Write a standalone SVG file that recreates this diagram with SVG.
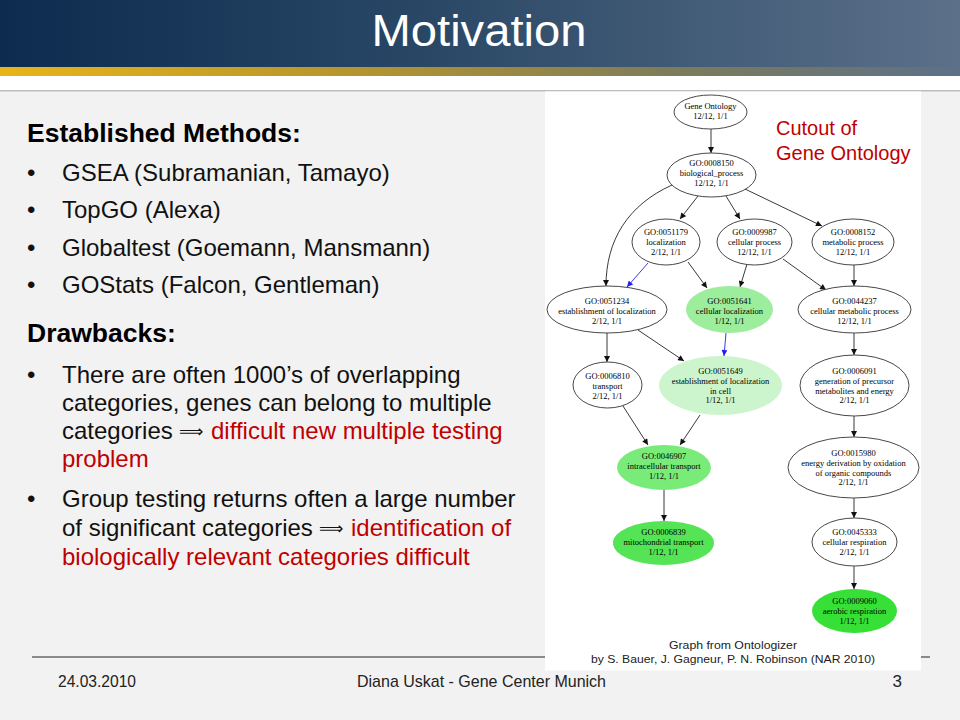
<svg xmlns="http://www.w3.org/2000/svg" width="960" height="720" viewBox="0 0 960 720">
<defs>
<linearGradient id="hdr" x1="0" y1="0" x2="1" y2="0">
<stop offset="0" stop-color="#0c2b4e"/>
<stop offset="0.45" stop-color="#2a4866"/>
<stop offset="1" stop-color="#5c7089"/>
</linearGradient>
<linearGradient id="gold" x1="0" y1="0" x2="1" y2="0">
<stop offset="0" stop-color="#e8b419"/>
<stop offset="0.35" stop-color="#b8962c"/>
<stop offset="0.7" stop-color="#7d7c5a"/>
<stop offset="1" stop-color="#5c7089"/>
</linearGradient>
<marker id="ah" viewBox="0 0 10 10" refX="10" refY="5" markerWidth="7" markerHeight="6" markerUnits="userSpaceOnUse" orient="auto">
<path d="M0,0 L10,5 L0,10 z" fill="#111"/>
</marker>
<marker id="ahb" viewBox="0 0 10 10" refX="10" refY="5" markerWidth="7" markerHeight="6" markerUnits="userSpaceOnUse" orient="auto">
<path d="M0,0 L10,5 L0,10 z" fill="#2222ee"/>
</marker>
</defs>
<style>
.body{font-family:"Liberation Sans",Arial,sans-serif;font-size:24px;fill:#111}
.head{font-family:"Liberation Sans",Arial,sans-serif;font-size:26.5px;font-weight:bold;fill:#000}
.red{fill:#c00000}
.arr{font-family:"DejaVu Sans",sans-serif;font-size:17px}
.nt{font-family:"Liberation Serif","Times New Roman",serif;font-size:8.5px;fill:#000;text-anchor:middle}
.wn{fill:#ffffff;stroke:#333;stroke-width:0.9}
.e{fill:none;stroke:#222;stroke-width:0.9;marker-end:url(#ah)}
.eb{fill:none;stroke:#2222ee;stroke-width:0.9;marker-end:url(#ahb)}
.foot{font-family:"Liberation Sans",Arial,sans-serif;font-size:17px;fill:#222}
.cap{font-family:"Liberation Sans",Arial,sans-serif;font-size:11.5px;fill:#222;text-anchor:middle}
</style>

<rect x="0" y="0" width="960" height="720" fill="#f2f2f2"/>
<rect x="0" y="0" width="960" height="67" fill="url(#hdr)"/>
<rect x="0" y="67" width="960" height="9" fill="url(#gold)"/>
<rect x="0" y="76" width="960" height="14" fill="#ffffff"/>
<rect x="0" y="90" width="960" height="1.5" fill="#bdbdbd"/>
<text x="479" y="46" text-anchor="middle" font-family="Liberation Sans, Arial, sans-serif" font-size="44" fill="#ffffff" textLength="215" lengthAdjust="spacingAndGlyphs">Motivation</text>

<g id="left-text">
<text class="head" x="27" y="142">Established Methods:</text>
<text class="body" x="27" y="181">•</text><text class="body" x="62" y="181">GSEA (Subramanian, Tamayo)</text>
<text class="body" x="27" y="218">•</text><text class="body" x="62" y="218">TopGO (Alexa)</text>
<text class="body" x="27" y="256">•</text><text class="body" x="62" y="256">Globaltest (Goemann, Mansmann)</text>
<text class="body" x="27" y="293">•</text><text class="body" x="62" y="293">GOStats (Falcon, Gentleman)</text>
<text class="head" x="27" y="342">Drawbacks:</text>
<text class="body" x="27" y="383">•</text><text class="body" x="62" y="383">There are often 1000’s of overlapping</text>
<text class="body" x="62" y="411">categories, genes can belong to multiple</text>
<text class="body" x="62" y="439">categories <tspan class="arr" x="179" y="437">⟹</tspan><tspan class="red" x="211" y="439">difficult new multiple testing</tspan></text>
<text class="body red" x="62" y="467">problem</text>
<text class="body" x="27" y="507">•</text><text class="body" x="62" y="507">Group testing returns often a large number</text>
<text class="body" x="62" y="536">of significant categories <tspan class="arr" x="319" y="534">⟹</tspan><tspan class="red" x="351" y="536">identification of</tspan></text>
<text class="body red" x="62" y="565">biologically relevant categories difficult</text>
</g>

<rect x="32" y="656.5" width="898" height="1" fill="#222"/>
<rect x="545" y="91.5" width="376" height="579" fill="#ffffff"/>

<g id="edges">
<line class="e" x1="711" y1="129" x2="711" y2="153"/>
<line class="e" x1="698" y1="196" x2="680" y2="219"/>
<line class="e" x1="726" y1="196" x2="740" y2="219"/>
<line class="e" x1="745" y1="189" x2="822" y2="226"/>
<path class="e" d="M672,185 C628,205 606,240 606,286"/>
<line class="eb" x1="648" y1="263" x2="627" y2="287"/>
<line class="e" x1="688" y1="262" x2="707" y2="288"/>
<line class="e" x1="747" y1="264" x2="740" y2="287"/>
<line class="e" x1="783" y1="259" x2="826" y2="290"/>
<line class="e" x1="854" y1="265" x2="854" y2="286"/>
<line class="e" x1="607" y1="333" x2="607" y2="362"/>
<line class="e" x1="638" y1="330" x2="684" y2="361"/>
<line class="eb" x1="726" y1="333" x2="724" y2="356"/>
<line class="e" x1="854" y1="333" x2="854" y2="355"/>
<line class="e" x1="623" y1="406" x2="648" y2="445"/>
<line class="e" x1="700" y1="415" x2="680" y2="445"/>
<line class="e" x1="854" y1="416" x2="854" y2="437"/>
<line class="e" x1="664" y1="490" x2="664" y2="521"/>
<line class="e" x1="854" y1="498" x2="854" y2="518"/>
<line class="e" x1="854" y1="566" x2="854" y2="589"/>
</g>

<g id="n-root">
<ellipse class="wn" cx="710.5" cy="112" rx="36.5" ry="17"/>
<text class="nt" x="710.5" y="109">Gene Ontology</text>
<text class="nt" x="710.5" y="119">12/12, 1/1</text>
</g>
<g id="n-0008150">
<ellipse class="wn" cx="711.5" cy="175" rx="44.5" ry="22"/>
<text class="nt" x="711.5" y="166">GO:0008150</text>
<text class="nt" x="711.5" y="176">biological_process</text>
<text class="nt" x="711.5" y="186">12/12, 1/1</text>
</g>
<g id="n-0051179">
<ellipse class="wn" cx="666" cy="242" rx="34" ry="23"/>
<text class="nt" x="666" y="235">GO:0051179</text>
<text class="nt" x="666" y="245">localization</text>
<text class="nt" x="666" y="255">2/12, 1/1</text>
</g>
<g id="n-0009987">
<ellipse class="wn" cx="754.5" cy="242" rx="37.5" ry="23"/>
<text class="nt" x="754.5" y="235">GO:0009987</text>
<text class="nt" x="754.5" y="245">cellular process</text>
<text class="nt" x="754.5" y="255">12/12, 1/1</text>
</g>
<g id="n-0008152">
<ellipse class="wn" cx="853" cy="242" rx="41" ry="23"/>
<text class="nt" x="853" y="235">GO:0008152</text>
<text class="nt" x="853" y="245">metabolic process</text>
<text class="nt" x="853" y="255">12/12, 1/1</text>
</g>
<g id="n-0051234">
<ellipse class="wn" cx="607" cy="309.5" rx="60" ry="23.5"/>
<text class="nt" x="607" y="304">GO:0051234</text>
<text class="nt" x="607" y="314">establishment of localization</text>
<text class="nt" x="607" y="324">2/12, 1/1</text>
</g>
<g id="n-0051641">
<ellipse cx="729.5" cy="309.5" rx="43.5" ry="23.5" fill="#9ced9c"/>
<text class="nt" x="729.5" y="304">GO:0051641</text>
<text class="nt" x="729.5" y="314">cellular localization</text>
<text class="nt" x="729.5" y="324">1/12, 1/1</text>
</g>
<g id="n-0044237">
<ellipse class="wn" cx="854.5" cy="309.5" rx="56.5" ry="23.5"/>
<text class="nt" x="854.5" y="304">GO:0044237</text>
<text class="nt" x="854.5" y="314">cellular metabolic process</text>
<text class="nt" x="854.5" y="324">12/12, 1/1</text>
</g>
<g id="n-0006810">
<ellipse class="wn" cx="607.5" cy="385" rx="34.5" ry="23"/>
<text class="nt" x="607.5" y="379">GO:0006810</text>
<text class="nt" x="607.5" y="389">transport</text>
<text class="nt" x="607.5" y="399">2/12, 1/1</text>
</g>
<g id="n-0051649">
<ellipse cx="720.5" cy="385.5" rx="61.5" ry="29.5" fill="#cdf5cd"/>
<text class="nt" x="720.5" y="374">GO:0051649</text>
<text class="nt" x="720.5" y="384">establishment of localization</text>
<text class="nt" x="720.5" y="394">in cell</text>
<text class="nt" x="720.5" y="403">1/12, 1/1</text>
</g>
<g id="n-0006091">
<ellipse class="wn" cx="854.5" cy="385.5" rx="54.5" ry="30.5"/>
<text class="nt" x="854.5" y="374">GO:0006091</text>
<text class="nt" x="854.5" y="384">generation of precursor</text>
<text class="nt" x="854.5" y="394">metabolites and energy</text>
<text class="nt" x="854.5" y="403">2/12, 1/1</text>
</g>
<g id="n-0046907">
<ellipse cx="664" cy="467.5" rx="47" ry="22.5" fill="#78eb78"/>
<text class="nt" x="664" y="459">GO:0046907</text>
<text class="nt" x="664" y="469">intracellular transport</text>
<text class="nt" x="664" y="479">1/12, 1/1</text>
</g>
<g id="n-0015980">
<ellipse class="wn" cx="853.5" cy="467.5" rx="65.5" ry="30.5"/>
<text class="nt" x="853.5" y="456">GO:0015980</text>
<text class="nt" x="853.5" y="466">energy derivation by oxidation</text>
<text class="nt" x="853.5" y="476">of organic compounds</text>
<text class="nt" x="853.5" y="485">2/12, 1/1</text>
</g>
<g id="n-0006839">
<ellipse cx="663.5" cy="543" rx="50.5" ry="22" fill="#55e455"/>
<text class="nt" x="663.5" y="535">GO:0006839</text>
<text class="nt" x="663.5" y="545">mitochondrial transport</text>
<text class="nt" x="663.5" y="555">1/12, 1/1</text>
</g>
<g id="n-0045333">
<ellipse class="wn" cx="854.5" cy="542" rx="42.5" ry="24"/>
<text class="nt" x="854.5" y="535">GO:0045333</text>
<text class="nt" x="854.5" y="545">cellular respiration</text>
<text class="nt" x="854.5" y="555">2/12, 1/1</text>
</g>
<g id="n-0009060">
<ellipse cx="854.5" cy="611" rx="42.5" ry="22" fill="#36e036"/>
<text class="nt" x="854.5" y="604">GO:0009060</text>
<text class="nt" x="854.5" y="614">aerobic respiration</text>
<text class="nt" x="854.5" y="624">1/12, 1/1</text>
</g>

<g id="annot">
<text x="776" y="135" font-family="Liberation Sans, Arial, sans-serif" font-size="20" fill="#c00000">Cutout of</text>
<text x="776" y="160" font-family="Liberation Sans, Arial, sans-serif" font-size="20" fill="#c00000">Gene Ontology</text>
<text class="cap" x="733" y="649" textLength="128" lengthAdjust="spacingAndGlyphs">Graph from Ontologizer</text>
<text class="cap" x="733" y="663" textLength="284" lengthAdjust="spacingAndGlyphs">by S. Bauer, J. Gagneur, P. N. Robinson (NAR 2010)</text>
</g>

<g id="footer">
<text class="foot" x="58" y="687" textLength="78" lengthAdjust="spacingAndGlyphs">24.03.2010</text>
<text class="foot" x="357" y="687" textLength="249" lengthAdjust="spacingAndGlyphs">Diana Uskat - Gene Center Munich</text>
<text class="foot" x="902" y="687" text-anchor="end">3</text>
</g>
</svg>
